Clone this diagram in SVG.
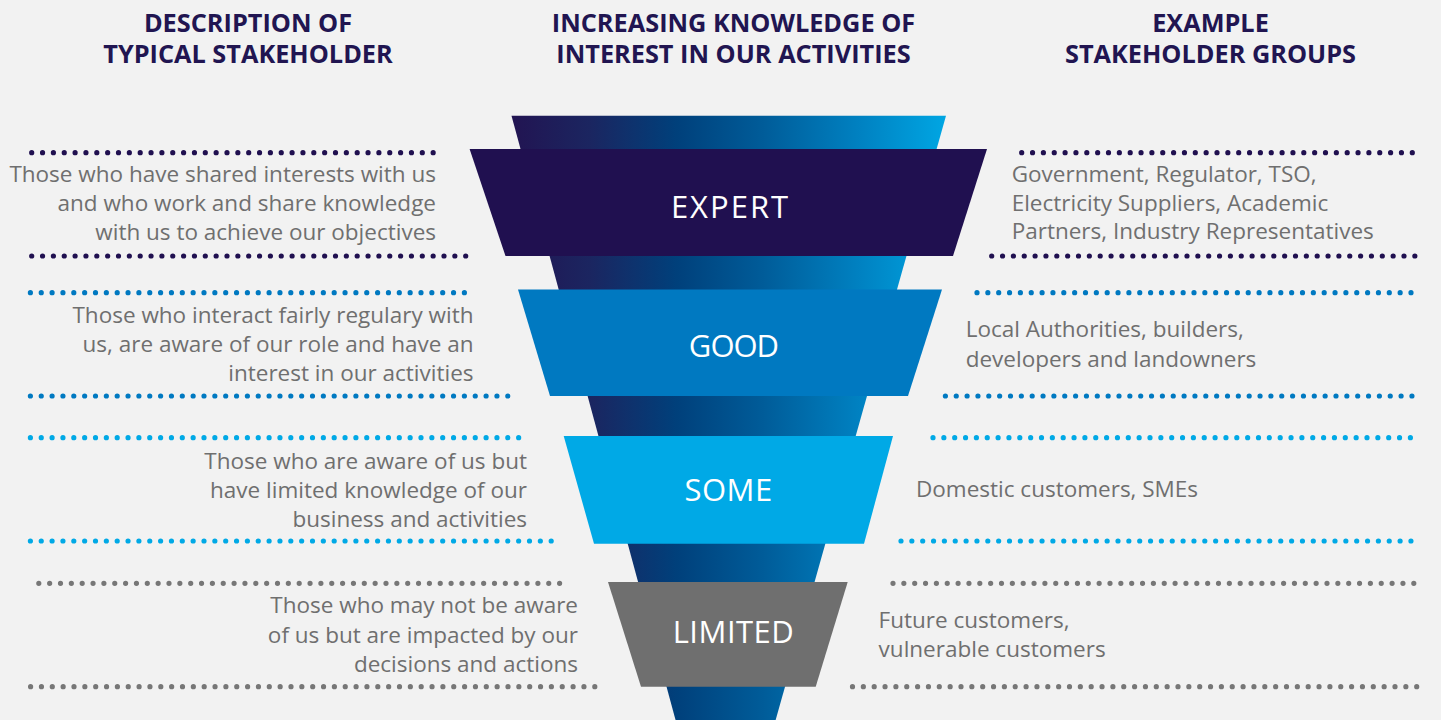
<svg xmlns="http://www.w3.org/2000/svg" width="1441" height="720" viewBox="0 0 1441 720">
  <defs>
    <linearGradient id="funnelGrad" gradientUnits="userSpaceOnUse" x1="511" y1="0" x2="946" y2="0">
      <stop offset="0" stop-color="#221452"/>
      <stop offset="0.18" stop-color="#1b2560"/>
      <stop offset="0.38" stop-color="#00407b"/>
      <stop offset="0.58" stop-color="#005c99"/>
      <stop offset="0.8" stop-color="#0081c1"/>
      <stop offset="1" stop-color="#00a6e3"/>
    </linearGradient>
    <style>
      .hdr { font-family: "Open Sans", "Liberation Sans", sans-serif; font-weight: 700; font-size: 25.3px; fill: #211551; text-anchor: middle; }
      .desc { font-family: "Open Sans", "Liberation Sans", sans-serif; font-size: 22.5px; fill: #6f6f6f; text-anchor: end; }
      .ex { font-family: "Open Sans", "Liberation Sans", sans-serif; font-size: 22.5px; fill: #6f6f6f; text-anchor: start; }
      .lbl { font-family: "Open Sans", "Liberation Sans", sans-serif; font-size: 31px; fill: #ffffff; text-anchor: middle; letter-spacing: 0.5px; }
      .dots { fill: none; stroke-width: 5.2; stroke-linecap: round; stroke-dasharray: 0 10.85; }
      .d-expert { stroke: #201050; }
      .d-good { stroke: #0079c1; }
      .d-some { stroke: #00a9e6; }
      .d-limited { stroke: #777777; }
    </style>
  </defs>

  <rect x="0" y="0" width="1441" height="720" fill="#f2f2f2"/>

  <g id="header-description">
    <text class="hdr" x="248" y="31.7">DESCRIPTION OF</text>
    <text class="hdr" x="248" y="63.3">TYPICAL STAKEHOLDER</text>
  </g>
  <g id="header-knowledge">
    <text class="hdr" x="733.5" y="31.7">INCREASING KNOWLEDGE OF</text>
    <text class="hdr" x="733.5" y="63.3">INTEREST IN OUR ACTIVITIES</text>
  </g>
  <g id="header-examples">
    <text class="hdr" x="1210.5" y="31.7">EXAMPLE</text>
    <text class="hdr" x="1210.5" y="63.3">STAKEHOLDER GROUPS</text>
  </g>

  <g id="funnel">
    <polygon points="511.5,115.7 946,115.7 770,740 681,740" fill="url(#funnelGrad)"/>
  </g>

  <g id="separators">
    <line class="dots d-expert" x1="31.7" y1="152.7" x2="435" y2="152.7"/>
    <line class="dots d-expert" x1="31.7" y1="256" x2="466.7" y2="256"/>
    <line class="dots d-expert" x1="1021.7" y1="152.7" x2="1419" y2="152.7"/>
    <line class="dots d-expert" x1="991.7" y1="256" x2="1419" y2="256"/>

    <line class="dots d-good" x1="30.4" y1="292.7" x2="475" y2="292.7"/>
    <line class="dots d-good" x1="30.4" y1="396" x2="512.5" y2="396"/>
    <line class="dots d-good" x1="977" y1="292.7" x2="1419.5" y2="292.7"/>
    <line class="dots d-good" x1="945.4" y1="396" x2="1419.5" y2="396"/>

    <line class="dots d-some" x1="30.4" y1="437.7" x2="524" y2="437.7"/>
    <line class="dots d-some" x1="30.4" y1="541" x2="557" y2="541"/>
    <line class="dots d-some" x1="933" y1="437.7" x2="1419.5" y2="437.7"/>
    <line class="dots d-some" x1="901" y1="541" x2="1419.5" y2="541"/>

    <line class="dots d-limited" x1="38.8" y1="583.3" x2="561" y2="583.3"/>
    <line class="dots d-limited" x1="30.6" y1="686.7" x2="604" y2="686.7"/>
    <line class="dots d-limited" x1="893" y1="583.3" x2="1422" y2="583.3"/>
    <line class="dots d-limited" x1="852.5" y1="686.7" x2="1424" y2="686.7"/>
  </g>

  <g id="band-expert">
    <polygon points="469.6,149 987,149 953,256 505.5,256" fill="#201050"/>
    <text class="lbl" x="730.5" y="218.3" style="letter-spacing:2px">EXPERT</text>
  </g>
  <g id="band-good">
    <polygon points="518,289.5 942,289.5 908,396 550,396" fill="#0079c1"/>
    <text class="lbl" x="733.5" y="357" style="letter-spacing:-1px">GOOD</text>
  </g>
  <g id="band-some">
    <polygon points="563.7,436 893,436 864,543.7 594,543.7" fill="#00a9e6"/>
    <text class="lbl" x="728.5" y="500.5">SOME</text>
  </g>
  <g id="band-limited">
    <polygon points="608,582 847.7,582 815.7,686.7 641,686.7" fill="#6f6f6f"/>
    <text class="lbl" x="733.5" y="642.7">LIMITED</text>
  </g>

  <g id="desc-expert">
    <text class="desc" x="436" y="181.7">Those who have shared interests with us</text>
    <text class="desc" x="436" y="211">and who work and share knowledge</text>
    <text class="desc" x="436" y="240">with us to achieve our objectives</text>
  </g>
  <g id="desc-good">
    <text class="desc" x="473.5" y="322.7">Those who interact fairly regulary with</text>
    <text class="desc" x="473.5" y="351.7">us, are aware of our role and have an</text>
    <text class="desc" x="473.5" y="380.7">interest in our activities</text>
  </g>
  <g id="desc-some">
    <text class="desc" x="527" y="469.3">Those who are aware of us but</text>
    <text class="desc" x="527" y="498.3">have limited knowledge of our</text>
    <text class="desc" x="527" y="527.3">business and activities</text>
  </g>
  <g id="desc-limited">
    <text class="desc" x="578" y="613.3">Those who may not be aware</text>
    <text class="desc" x="578" y="643.3">of us but are impacted by our</text>
    <text class="desc" x="578" y="671.7">decisions and actions</text>
  </g>

  <g id="example-expert">
    <text class="ex" x="1011.7" y="181.7">Government, Regulator, TSO,</text>
    <text class="ex" x="1011.7" y="211">Electricity Suppliers, Academic</text>
    <text class="ex" x="1011.7" y="239.3">Partners, Industry Representatives</text>
  </g>
  <g id="example-good">
    <text class="ex" x="965.7" y="336.7">Local Authorities, builders,</text>
    <text class="ex" x="965.7" y="366.7">developers and landowners</text>
  </g>
  <g id="example-some">
    <text class="ex" x="916" y="496.7">Domestic customers, SMEs</text>
  </g>
  <g id="example-limited">
    <text class="ex" x="878.6" y="628.3">Future customers,</text>
    <text class="ex" x="878.6" y="656.7">vulnerable customers</text>
  </g>
</svg>
